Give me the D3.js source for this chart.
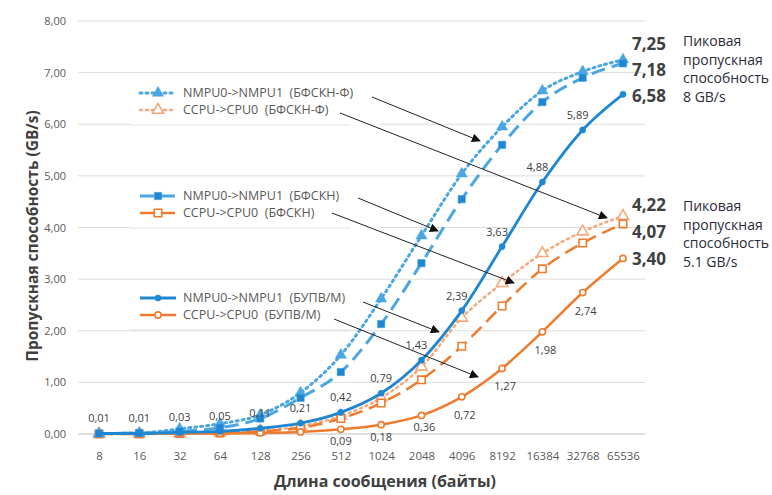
<!DOCTYPE html>
<html><head><meta charset="utf-8">
<script src="https://cdn.jsdelivr.net/npm/d3@7"></script>
<style>body{margin:0;background:#fff}svg{display:block}text{font-family:"Open Sans","DejaVu Sans",sans-serif;white-space:pre}</style>
</head><body><svg id="c" width="772" height="495"></svg>
<script>
const categories = ["8","16","32","64","128","256","512","1024","2048","4096","8192","16384","32768","65536"];
const yTicks = [0,1,2,3,4,5,6,7,8];
const nmpuUpv = [0.01,0.01,0.03,0.05,0.11,0.21,0.42,0.79,1.43,2.39,3.63,4.88,5.89,6.58];
const ccpuUpv = [0.005,0.005,0.01,0.01,0.02,0.04,0.09,0.18,0.36,0.72,1.27,1.98,2.74,3.40];
const nmpuFskn = [0.01,0.02,0.05,0.12,0.3,0.7,1.2,2.13,3.31,4.55,5.6,6.43,6.9,7.18];
const ccpuFskn = [0.0,0.0,0.01,0.02,0.05,0.12,0.3,0.6,1.05,1.7,2.48,3.2,3.7,4.07];
const nmpuFsknF = [0.01,0.02,0.1,0.2,0.37,0.8,1.53,2.62,3.84,5.04,5.95,6.65,7.02,7.25];
const ccpuFsknF = [0.0,0.0,0.01,0.03,0.06,0.15,0.35,0.7,1.3,2.25,2.92,3.5,3.92,4.22];
const legendNames = ["NMPU0->NMPU1  (БФСКН-Ф)","CCPU->CPU0  (БФСКН-Ф)","NMPU0->NMPU1  (БФСКН)","CCPU->CPU0  (БФСКН)","NMPU0->NMPU1  (БУПВ/М)","CCPU->CPU0  (БУПВ/М)"];
const peakLabels1 = ["7,25","7,18","6,58"];
const peakLabels2 = ["4,22","4,07","3,40"];
const peakText1 = ["Пиковая","пропускная","способность","8 GB/s"];
const peakText2 = ["Пиковая","пропускная","способность","5.1 GB/s"];

const svg = d3.select("#c");
const x = d3.scalePoint().domain(categories).range([99,623]);
const y = d3.scaleLinear().domain([0,8]).range([434,21]);
const fmt = v => v.toFixed(2).replace(".", ",");

const BLUE="#1f86d2", BLUE_L="#4ba6e2", ORANGE="#ef7b2f", ORANGE_L="#f5a87a";

// grid
svg.append("g").selectAll("line").data(yTicks).join("line")
  .attr("x1",78).attr("x2",645).attr("y1",d=>y(d)).attr("y2",d=>y(d))
  .attr("stroke",d=>d===0?"#bfbfbf":"#dcdcdc").attr("stroke-width",1);

// axes
const yAxis = d3.axisLeft(y).tickValues(yTicks).tickFormat(fmt).tickSize(0).tickPadding(12);
const gy = svg.append("g").attr("transform","translate(78,0)").call(yAxis);
gy.select(".domain").remove();
gy.selectAll("text").attr("fill","#595959").style("font-size","11px");
const xAxis = d3.axisBottom(x).tickSize(0).tickPadding(18);
const gx = svg.append("g").attr("transform","translate(0,434)").call(xAxis);
gx.select(".domain").remove();
gx.selectAll("text").attr("fill","#595959").style("font-size","11.5px");

svg.append("text").attr("transform","translate(38,236) rotate(-90)").attr("text-anchor","middle")
  .attr("fill","#404040").style("font-size","15.5px").style("font-weight","bold").text("Пропускная способность (GB/s)");
svg.append("text").attr("x",385).attr("y",487).attr("text-anchor","middle")
  .attr("fill","#404040").style("font-size","16px").style("font-weight","bold").text("Длина сообщения (байты)");

// legend boxes (white)
[[130,80,125],[130,183,228],[130,286,330]].forEach(([x0,y0,y1])=>{
  svg.append("rect").attr("x",x0).attr("y",y0).attr("width",250).attr("height",y1-y0).attr("fill","#fff");
  svg.append("line").attr("x1",x0).attr("x2",x0+220).attr("y1",y1).attr("y2",y1).attr("stroke","#e2e2e2");
});

const series = [
  {data:ccpuFsknF,color:ORANGE_L,dash:"2,4",w:2.5,sym:"tri",fill:"#fff"},
  {data:ccpuFskn,color:ORANGE,dash:"14,7",w:2.5,sym:"sq",fill:"#fff"},
  {data:ccpuUpv,color:ORANGE,dash:null,w:2.5,sym:"circ",fill:"#fff"},
  {data:nmpuFsknF,color:BLUE_L,dash:"2,4",w:3,sym:"tri",fill:BLUE_L},
  {data:nmpuFskn,color:BLUE_L,dash:"14,7",w:3,sym:"sq",fill:BLUE},
  {data:nmpuUpv,color:BLUE,dash:null,w:2.8,sym:"circ",fill:BLUE}
];
const symType = {tri:d3.symbolTriangle, sq:d3.symbolSquare, circ:d3.symbolCircle};
const symSize = {tri:55, sq:55, circ:30};
const line = d3.line().x((d,i)=>x(categories[i])).y(d=>y(d)).curve(d3.curveMonotoneX);
series.forEach(s=>{
  svg.append("path").attr("d",line(s.data)).attr("fill","none").attr("stroke",s.color)
    .attr("stroke-width",s.w).attr("stroke-dasharray",s.dash).attr("stroke-linecap",s.dash&&s.dash.startsWith("2")?"round":"butt");
  svg.append("g").selectAll("path").data(s.data).join("path")
    .attr("transform",(d,i)=>`translate(${x(categories[i])},${y(d)})`)
    .attr("d",d3.symbol().type(symType[s.sym]).size(symSize[s.sym]))
    .attr("fill",s.fill).attr("stroke",s.color).attr("stroke-width",s.fill==="#fff"?1.6:0.5);
});

// data labels
svg.append("g").selectAll("text").data(nmpuUpv.slice(0,13)).join("text")
  .attr("x",(d,i)=>x(categories[i])-(i>=8?5:0)).attr("y",(d,i)=>y(d)-11)
  .attr("text-anchor","middle").attr("fill","#404040").style("font-size","11px").text(fmt);
svg.append("g").selectAll("text").data(ccpuUpv.slice(6,13)).join("text")
  .attr("x",(d,i)=>x(categories[i+6])+(i>=2?3:0)).attr("y",(d,i)=>y(d)+(i>=3?22:16))
  .attr("text-anchor","middle").attr("fill","#404040").style("font-size","11px").text(fmt);

// peak labels
svg.append("g").selectAll("text").data(peakLabels1).join("text")
  .attr("x",632).attr("y",(d,i)=>50+i*26).attr("fill","#404040").style("font-size","17px").style("font-weight","bold").text(d=>d);
svg.append("g").selectAll("text").data(peakLabels2).join("text")
  .attr("x",632).attr("y",(d,i)=>211+i*27).attr("fill","#404040").style("font-size","17px").style("font-weight","bold").text(d=>d);
svg.append("g").selectAll("text").data(peakText1).join("text")
  .attr("x",683).attr("y",(d,i)=>46+i*18.5).attr("fill","#2b2b3b").style("font-size","14px").text(d=>d);
svg.append("g").selectAll("text").data(peakText2).join("text")
  .attr("x",683).attr("y",(d,i)=>211+i*18.5).attr("fill","#2b2b3b").style("font-size","14px").text(d=>d);

// legend entries
const legY = [93,110,196,213,298,315];
const legOrder = [3,0,4,1,5,2];
legOrder.forEach((si,k)=>{
  const s = series[si], yy = legY[k];
  svg.append("line").attr("x1",140).attr("x2",176).attr("y1",yy).attr("y2",yy).attr("stroke",s.color)
    .attr("stroke-width",s.w).attr("stroke-dasharray",s.dash).attr("stroke-linecap",s.dash&&s.dash.startsWith("2")?"round":"butt");
  svg.append("path").attr("transform",`translate(158,${yy})`)
    .attr("d",d3.symbol().type(symType[s.sym]).size(symSize[s.sym]))
    .attr("fill",s.fill).attr("stroke",s.color).attr("stroke-width",s.fill==="#fff"?1.6:0.5);
  svg.append("text").attr("x",183).attr("y",yy+4).attr("fill","#595959").style("font-size","12.5px").text(legendNames[k]);
});

// arrows
svg.append("defs").append("marker").attr("id","ah").attr("viewBox","0 0 10 10").attr("refX",9).attr("refY",5)
  .attr("markerWidth",9).attr("markerHeight",9).attr("markerUnits","userSpaceOnUse").attr("orient","auto")
  .append("path").attr("d","M0,0L10,5L0,10z").attr("fill","#111");
const arrows = [[372,97,480,141],[340,113,607,218],[358,198,438,231],[332,213,514,283],[363,302,439,332],[334,319,478,377]];
svg.append("g").selectAll("line").data(arrows).join("line")
  .attr("x1",d=>d[0]).attr("y1",d=>d[1]).attr("x2",d=>d[2]).attr("y2",d=>d[3])
  .attr("stroke","#222").attr("stroke-width",1).attr("marker-end","url(#ah)");
</script></body></html>
